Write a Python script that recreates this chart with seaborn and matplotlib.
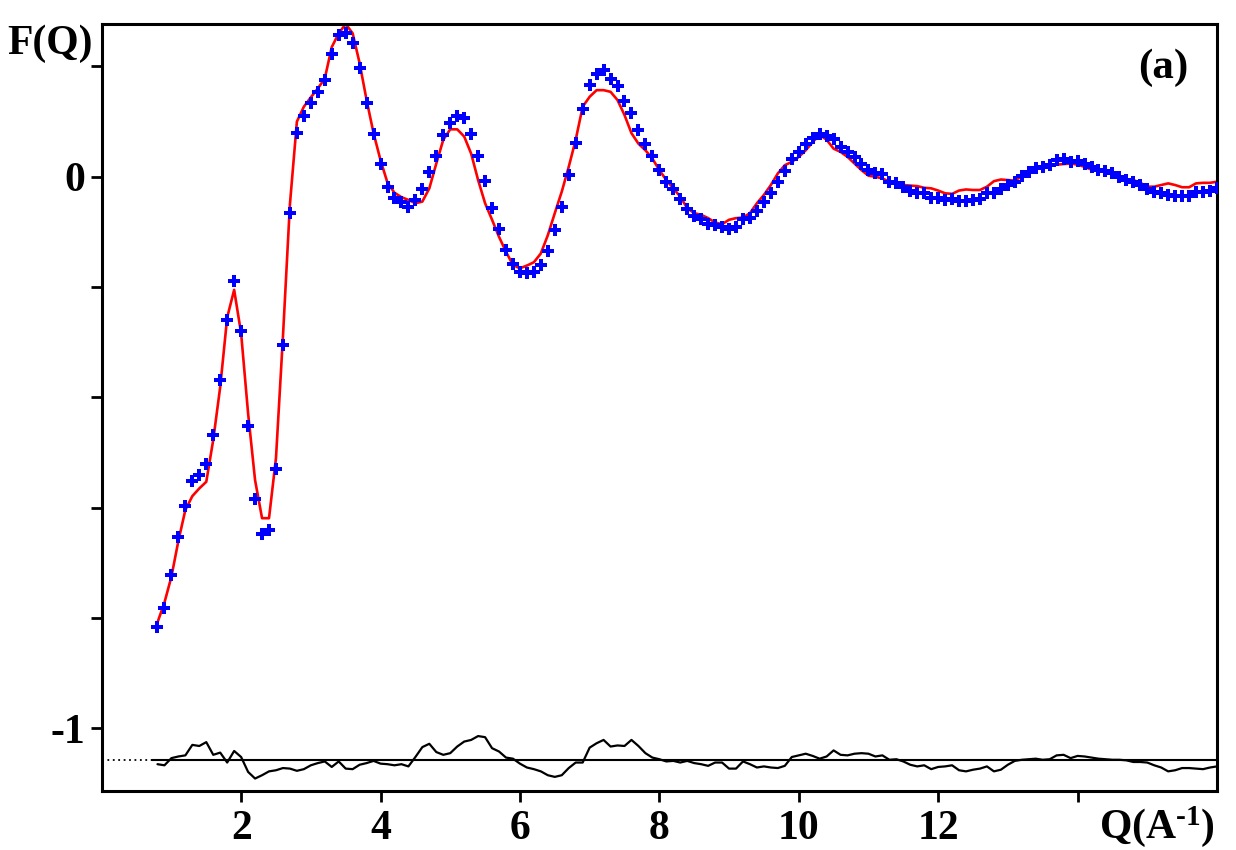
import numpy as np
import pandas as pd
import matplotlib
matplotlib.use("Agg")
import matplotlib.pyplot as plt
import seaborn as sns

# Q grid (0.8 .. 16.0, step 0.1)
q = np.round(np.linspace(0.8, 16.0, 153), 2)

f_data = [-0.816, -0.782, -0.722, -0.654, -0.596, -0.552, -0.540, -0.521, -0.468, -0.368,
          -0.260, -0.189, -0.279, -0.451, -0.584, -0.647, -0.640, -0.529, -0.305, -0.066,
          0.080, 0.110, 0.134, 0.154, 0.175, 0.222, 0.257, 0.261, 0.243, 0.197,
          0.133, 0.077, 0.023, -0.019, -0.039, -0.045, -0.054, -0.043, -0.022, 0.008,
          0.038, 0.076, 0.098, 0.110, 0.106, 0.078, 0.037, -0.007, -0.057, -0.094,
          -0.132, -0.158, -0.173, -0.175, -0.172, -0.160, -0.134, -0.097, -0.055, 0.003,
          0.062, 0.122, 0.167, 0.187, 0.193, 0.178, 0.165, 0.137, 0.115, 0.085,
          0.060, 0.037, 0.013, -0.009, -0.023, -0.041, -0.059, -0.072, -0.077, -0.086,
          -0.088, -0.091, -0.094, -0.091, -0.077, -0.074, -0.062, -0.045, -0.029, -0.009,
          0.010, 0.032, 0.044, 0.059, 0.070, 0.078, 0.073, 0.068, 0.054, 0.044,
          0.035, 0.024, 0.013, 0.006, 0.005, -0.009, -0.012, -0.018, -0.025, -0.029,
          -0.030, -0.038, -0.038, -0.042, -0.041, -0.044, -0.044, -0.042, -0.040, -0.030,
          -0.029, -0.023, -0.015, -0.009, 0.001, 0.008, 0.015, 0.018, 0.022, 0.030,
          0.032, 0.027, 0.029, 0.024, 0.017, 0.013, 0.010, 0.006, 0.000, -0.006,
          -0.010, -0.015, -0.023, -0.028, -0.029, -0.033, -0.034, -0.034, -0.034, -0.028,
          -0.028, -0.025, -0.021]

f_fit = [-0.808, -0.772, -0.725, -0.660, -0.604, -0.579, -0.565, -0.553, -0.477, -0.381,
         -0.255, -0.205, -0.284, -0.429, -0.550, -0.619, -0.619, -0.510, -0.290, -0.050,
         0.100, 0.127, 0.144, 0.160, 0.178, 0.235, 0.260, 0.277, 0.260, 0.206,
         0.139, 0.079, 0.030, -0.011, -0.029, -0.037, -0.042, -0.048, -0.045, -0.021,
         0.024, 0.067, 0.086, 0.086, 0.073, 0.042, -0.006, -0.048, -0.078, -0.109,
         -0.136, -0.160, -0.166, -0.161, -0.155, -0.139, -0.106, -0.066, -0.027, 0.018,
         0.067, 0.127, 0.145, 0.157, 0.157, 0.154, 0.139, 0.112, 0.079, 0.060,
         0.048, 0.033, 0.012, -0.006, -0.021, -0.036, -0.057, -0.066, -0.069, -0.075,
         -0.083, -0.086, -0.078, -0.075, -0.074, -0.066, -0.048, -0.033, -0.015, 0.006,
         0.021, 0.027, 0.036, 0.048, 0.063, 0.076, 0.067, 0.051, 0.045, 0.036,
         0.024, 0.012, 0.002, 0.000, -0.003, -0.009, -0.013, -0.015, -0.016, -0.017,
         -0.020, -0.021, -0.025, -0.030, -0.031, -0.025, -0.023, -0.024, -0.024, -0.018,
         -0.008, -0.005, -0.006, -0.007, 0.001, 0.007, 0.013, 0.018, 0.021, 0.022,
         0.023, 0.024, 0.022, 0.018, 0.013, 0.011, 0.009, 0.006, 0.000, -0.005,
         -0.006, -0.011, -0.018, -0.018, -0.015, -0.012, -0.015, -0.019, -0.019, -0.012,
         -0.011, -0.011, -0.009]

diff_offset = -1.057

x_ticks = [2, 4, 6, 8, 10, 12, 14]
x_tick_labels = ["2", "4", "6", "8", "10", "12", ""]
y_ticks = [0.2, 0.0, -0.2, -0.4, -0.6, -0.8, -1.0]
y_tick_labels = ["", "0", "", "", "", "", "-1"]

df = pd.DataFrame({"Q": q, "data": f_data, "fit": f_fit})
df["diff"] = df["data"] - df["fit"] + diff_offset

sns.set_style("ticks")
plt.rcParams["font.family"] = ["Liberation Serif", "DejaVu Serif"]
plt.rcParams["font.weight"] = "bold"
plt.rcParams["text.color"] = "black"
plt.rcParams["axes.labelcolor"] = "black"
plt.rcParams["xtick.color"] = "black"
plt.rcParams["ytick.color"] = "black"
plt.rcParams["mathtext.fontset"] = "custom"
plt.rcParams["mathtext.rm"] = "Liberation Serif:bold"
plt.rcParams["mathtext.it"] = "Liberation Serif:bold"
plt.rcParams["mathtext.bf"] = "Liberation Serif:bold"
plt.rcParams["mathtext.default"] = "rm"

fig = plt.figure(figsize=(12.36, 8.5), dpi=100)
ax = fig.add_axes([0.0823, 0.0698, 0.9846 - 0.0823, 0.9718 - 0.0698])

# difference baseline
ax.plot([0.0, 0.72], [diff_offset, diff_offset], color="black", lw=1.3, ls=(0, (1, 2)))
ax.plot([0.72, 16.0], [diff_offset, diff_offset], color="black", lw=1.5)

sns.lineplot(data=df, x="Q", y="diff", ax=ax, color="black", lw=1.6,
             sort=False, estimator=None)
sns.lineplot(data=df, x="Q", y="fit", ax=ax, color="#ff0000", lw=1.9,
             sort=False, estimator=None)
sns.scatterplot(data=df, x="Q", y="data", ax=ax, color="#0000ff", marker="P",
                s=72, linewidth=0, zorder=5)

ax.set_xlim(0, 16)
ax.set_ylim(-1.113, 0.277)
ax.set_xticks(x_ticks)
ax.set_xticklabels(x_tick_labels)
ax.set_yticks(y_ticks)
ax.set_yticklabels(y_tick_labels)
ax.set_xlabel("")
ax.set_ylabel("")

for s in ax.spines.values():
    s.set_linewidth(2.2)
    s.set_color("black")
ax.tick_params(axis="both", direction="out", length=8, width=2.0, labelsize=30,
               colors="black")
ax.tick_params(axis="x", pad=6)
ax.tick_params(axis="y", pad=4)
for lab in ax.get_xticklabels() + ax.get_yticklabels():
    lab.set_fontweight("bold")
    lab.set_color("black")

fig.text(0.006, 0.948, "F(Q)", fontsize=30, fontweight="bold", color="black",
         ha="left", va="center")
ax.text(0.974, 0.943, "(a)", transform=ax.transAxes, fontsize=31, fontweight="bold",
        color="black", ha="right", va="center")
fig.text(0.983, 0.028, r"Q(A$^{\text{-1}}$)", fontsize=30, fontweight="bold",
         color="black", ha="right", va="center")

fig.savefig("out.png", dpi=100)
